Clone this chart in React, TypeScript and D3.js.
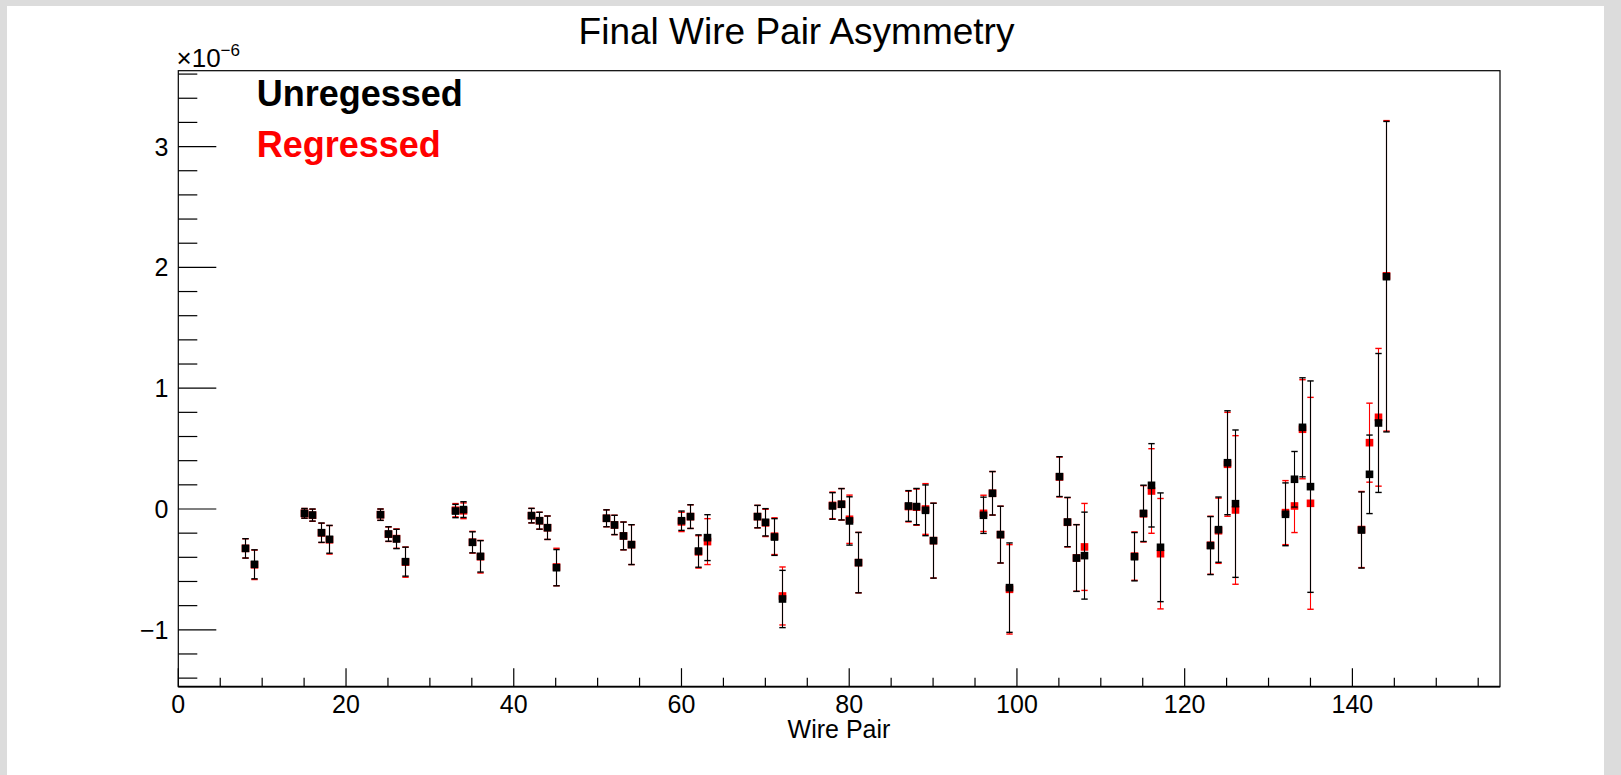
import React from "react";
import * as d3 from "d3";

const pairs = [8,9,15,16,17,18,24,25,26,27,33,34,35,36,42,43,44,45,51,52,53,54,60,61,62,63,69,70,71,72,78,79,80,81,87,88,89,90,96,97,98,99,105,106,107,108,114,115,116,117,123,124,125,126,132,133,134,135,141,142,143,144];

const unregValues = [-0.326,-0.458,-0.036,-0.05,-0.196,-0.251,-0.047,-0.207,-0.248,-0.436,-0.017,-0.005,-0.276,-0.392,-0.055,-0.097,-0.155,-0.486,-0.077,-0.132,-0.223,-0.295,-0.097,-0.063,-0.348,-0.237,-0.063,-0.11,-0.232,-0.745,0.025,0.039,-0.099,-0.444,0.025,0.02,-0.011,-0.262,-0.052,0.13,-0.212,-0.651,0.268,-0.108,-0.406,-0.386,-0.395,-0.036,0.196,-0.317,-0.303,-0.171,0.383,0.044,-0.044,0.246,0.676,0.185,-0.174,0.287,0.712,1.923];

const unregErrors = [0.08,0.12,0.04,0.05,0.08,0.115,0.047,0.06,0.08,0.12,0.055,0.065,0.087,0.13,0.06,0.07,0.097,0.15,0.07,0.08,0.115,0.165,0.08,0.098,0.134,0.19,0.093,0.113,0.152,0.237,0.11,0.13,0.2,0.25,0.127,0.15,0.21,0.31,0.15,0.18,0.235,0.37,0.165,0.204,0.276,0.36,0.2,0.233,0.345,0.45,0.24,0.27,0.43,0.61,0.26,0.23,0.41,0.875,0.315,0.325,0.575,1.285];

const regValues = [-0.326,-0.462,-0.036,-0.052,-0.198,-0.255,-0.047,-0.209,-0.245,-0.44,-0.01,-0.015,-0.275,-0.395,-0.055,-0.097,-0.155,-0.48,-0.077,-0.132,-0.223,-0.295,-0.107,-0.063,-0.355,-0.27,-0.063,-0.115,-0.225,-0.72,0.03,0.039,-0.085,-0.444,0.02,0.015,0.0,-0.262,-0.036,0.13,-0.212,-0.665,0.265,-0.11,-0.405,-0.314,-0.39,-0.04,0.149,-0.37,-0.3,-0.18,0.37,-0.008,-0.03,0.025,0.66,0.047,-0.17,0.549,0.759,1.93];

const regErrors = [0.08,0.122,0.04,0.05,0.08,0.118,0.047,0.06,0.08,0.125,0.055,0.065,0.09,0.135,0.06,0.07,0.097,0.155,0.07,0.08,0.115,0.165,0.08,0.098,0.134,0.19,0.093,0.113,0.152,0.24,0.11,0.13,0.2,0.25,0.127,0.15,0.21,0.31,0.15,0.18,0.235,0.37,0.165,0.204,0.276,0.36,0.2,0.233,0.35,0.457,0.24,0.27,0.43,0.615,0.265,0.22,0.41,0.877,0.315,0.327,0.57,1.285];

const xMajorTicks = [0,20,40,60,80,100,120,140];
const yMajorTicks = [-1,0,1,2,3];

const FONT = "'Liberation Sans', Arial, Helvetica, sans-serif";

export default function App() {
  const W = 1621, H = 775;
  const left = 178.3, right = 1500, top = 70.7, bottom = 686.7;
  const x = d3.scaleLinear().domain([0, 157.6]).range([left, right]);
  const y = d3.scaleLinear().domain([-1.471, 3.628]).range([bottom, top]);

  const xMinor = d3.range(0, 157.6, 5).filter((v) => v % 20 !== 0);
  const yMinor = d3.range(-1.4, 3.61, 0.2).map((v) => Math.round(v * 10) / 10).filter((v) => Math.abs(v - Math.round(v)) > 1e-6);

  const ms = 7.6;
  const cap = 3.2;

  const renderSeries = (vals: number[], errs: number[], color: string) =>
    pairs.map((p, i) => {
      const cx = Math.round(x(p)) + 0.5;
      const y1 = y(vals[i] + errs[i]);
      const y2 = y(vals[i] - errs[i]);
      const cy = y(vals[i]);
      return (
        <g key={color + p}>
          <line x1={cx} x2={cx} y1={y1} y2={y2} stroke={color} strokeWidth={1.1} />
          <line x1={cx - cap} x2={cx + cap} y1={y1} y2={y1} stroke={color} strokeWidth={1.4} />
          <line x1={cx - cap} x2={cx + cap} y1={y2} y2={y2} stroke={color} strokeWidth={1.4} />
          <rect x={cx - ms / 2} y={cy - ms / 2} width={ms} height={ms} fill={color} />
        </g>
      );
    });

  return (
    <svg width={W} height={H} style={{ position: "absolute", left: 0, top: 0, fontFamily: FONT }}>
      <rect x={0} y={0} width={W} height={H} fill="#dcdcdc" />
      <rect x={7} y={6} width={1597} height={H - 6} fill="#ffffff" />

      <text x={796.5} y={44} textAnchor="middle" fontSize={37} fill="#000">Final Wire Pair Asymmetry</text>

      {/* frame */}
      <rect x={left} y={top} width={right - left} height={bottom - top} fill="none" stroke="#000" strokeWidth={1.2} />
      <line x1={left} x2={right} y1={bottom} y2={bottom} stroke="#000" strokeWidth={1.8} />

      {/* y ticks */}
      {yMajorTicks.map((v) => (
        <g key={"ym" + v}>
          <line x1={left} x2={left + 38} y1={y(v)} y2={y(v)} stroke="#000" strokeWidth={1.2} />
          <text x={168.5} y={y(v) + 9} textAnchor="end" fontSize={25}>{v < 0 ? "\u2212" + Math.abs(v) : String(v)}</text>
        </g>
      ))}
      {yMinor.map((v) => (
        <line key={"yn" + v} x1={left} x2={left + 19} y1={y(v)} y2={y(v)} stroke="#000" strokeWidth={1.2} />
      ))}

      {/* x ticks */}
      {xMajorTicks.map((v) => (
        <g key={"xm" + v}>
          <line x1={x(v)} x2={x(v)} y1={bottom} y2={bottom - 18.5} stroke="#000" strokeWidth={1.2} />
          <text x={x(v)} y={712.5} textAnchor="middle" fontSize={25}>{v}</text>
        </g>
      ))}
      {xMinor.map((v) => (
        <line key={"xn" + v} x1={x(v)} x2={x(v)} y1={bottom} y2={bottom - 9} stroke="#000" strokeWidth={1.2} />
      ))}

      {/* exponent */}
      <text x={176.5} y={67} fontSize={26}>×10<tspan fontSize={17} dy={-11}>−6</tspan></text>

      {/* axis title */}
      <text x={839} y={738} textAnchor="middle" fontSize={25}>Wire Pair</text>

      {/* legend */}
      <text x={256.7} y={106} fontSize={36} fontWeight="bold" fill="#000">Unregessed</text>
      <text x={256.7} y={156.7} fontSize={36} fontWeight="bold" fill="#ff0000">Regressed</text>

      {/* data */}
      {renderSeries(regValues, regErrors, "#ff0000")}
      {renderSeries(unregValues, unregErrors, "#000000")}
    </svg>
  );
}
